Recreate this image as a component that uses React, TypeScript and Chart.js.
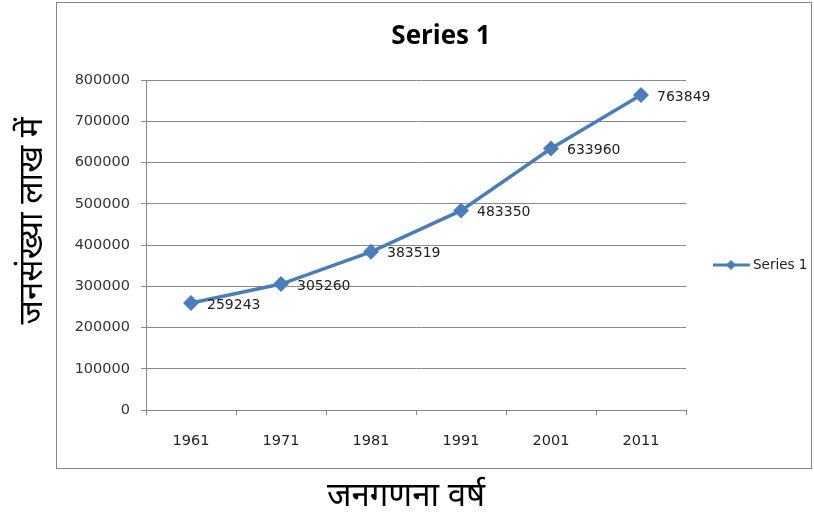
import React, { useEffect, useRef } from "react";
import { Chart, registerables } from "chart.js";

Chart.register(...registerables);

const years = ["1961", "1971", "1981", "1991", "2001", "2011"];
const population = [259243, 305260, 383519, 483350, 633960, 763849];
const seriesName = "Series 1";
const chartTitle = "Series 1";
const yTitle = "जनसंख्या लाख में";
const xTitle = "जनगणना वर्ष";

const BLUE = "#4A7EBB";
const GRID = "#8A8A8A";
const FONT = "'DejaVu Sans', sans-serif";
const HFONT = "'Noto Sans', sans-serif";

const extrasPlugin = {
  id: "extras",
  beforeDraw(chart: any) {
    const ctx = chart.ctx;
    ctx.save();
    ctx.fillStyle = "#fff";
    ctx.fillRect(0, 0, chart.width, chart.height);
    ctx.strokeStyle = "#878787";
    ctx.lineWidth = 1;
    ctx.strokeRect(56.5, 2.5, 755, 466);
    ctx.restore();
  },
  afterDraw(chart: any) {
    const ctx = chart.ctx;
    ctx.save();
    // title
    ctx.fillStyle = "#000";
    ctx.font = `bold 26px 'Open Sans', sans-serif`;
    ctx.textAlign = "center";
    ctx.textBaseline = "middle";
    ctx.fillText(chartTitle, 441, 37);
    // axis titles
    ctx.font = `33px ${HFONT}`;
    ctx.fillText(xTitle, 406, 497);
    ctx.save();
    ctx.translate(33, 221);
    ctx.rotate(-Math.PI / 2);
    ctx.fillText(yTitle, 0, 0);
    ctx.restore();
    // data labels
    const meta = chart.getDatasetMeta(0);
    ctx.font = `14px ${FONT}`;
    ctx.textAlign = "left";
    ctx.fillStyle = "#222";
    meta.data.forEach((pt: any, i: number) => {
      ctx.fillText(String(population[i]), pt.x + 16, pt.y + 2);
    });
    // legend
    const ly = 265;
    ctx.strokeStyle = BLUE;
    ctx.lineWidth = 3;
    ctx.beginPath();
    ctx.moveTo(713, ly);
    ctx.lineTo(750, ly);
    ctx.stroke();
    ctx.fillStyle = BLUE;
    ctx.beginPath();
    ctx.moveTo(731, ly - 5);
    ctx.lineTo(736, ly);
    ctx.lineTo(731, ly + 5);
    ctx.lineTo(726, ly);
    ctx.closePath();
    ctx.fill();
    ctx.fillStyle = "#222";
    ctx.font = `13.5px ${FONT}`;
    ctx.fillText(seriesName, 753, ly);
    ctx.restore();
  },
};

export default function App() {
  const ref = useRef<HTMLCanvasElement | null>(null);
  useEffect(() => {
    document.body.style.margin = "0";
    const canvas = ref.current!;
    const chart = new Chart(canvas, {
      type: "line",
      data: {
        labels: years,
        datasets: [
          {
            label: seriesName,
            data: population,
            borderColor: BLUE,
            backgroundColor: BLUE,
            borderWidth: 3.5,
            pointStyle: "rectRot",
            pointRadius: 5.5,
            pointHoverRadius: 5.5,
            tension: 0,
          },
        ],
      },
      options: {
        responsive: false,
        animation: false,
        devicePixelRatio: 1,
        layout: { padding: { top: 80, right: 128, left: 0, bottom: 0 } },
        plugins: {
          legend: { display: false },
          title: { display: false },
          tooltip: { enabled: false },
        },
        scales: {
          x: {
            type: "category",
            offset: true,
            afterFit(scale: any) {
              scale.height = 106;
            },
            grid: {
              offset: true,
              drawOnChartArea: false,
              drawTicks: true,
              tickLength: 5,
              color: GRID,
            },
            border: { color: GRID },
            ticks: {
              color: "#222",
              font: { family: FONT, size: 14.5 },
              padding: 18,
            },
          },
          y: {
            min: 0,
            max: 800000,
            afterFit(scale: any) {
              scale.width = 146;
            },
            ticks: {
              stepSize: 100000,
              color: "#333",
              font: { family: FONT, size: 14.5 },
              padding: 11,
              callback: (v: any) => String(v),
            },
            grid: {
              color: GRID,
              tickLength: 5,
            },
            border: { color: GRID },
          },
        },
      },
      plugins: [extrasPlugin],
    });
    return () => chart.destroy();
  }, []);
  return (
    <canvas
      ref={ref}
      width={814}
      height={516}
      style={{ display: "block", width: 814, height: 516 }}
    />
  );
}
